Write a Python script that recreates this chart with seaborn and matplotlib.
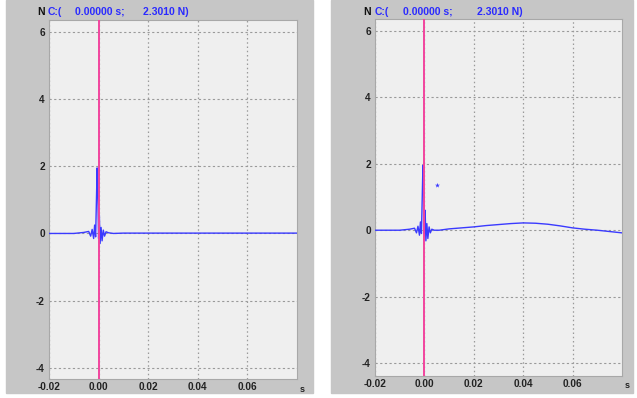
import numpy as np
import pandas as pd
import seaborn as sns
import matplotlib.pyplot as plt
from matplotlib.patches import Rectangle

sns.set_theme(style="white")
plt.rcParams["font.family"] = ["Liberation Sans", "DejaVu Sans"]
plt.rcParams["font.weight"] = "bold"

# values (time in s, force in N)
t_left = [-0.02, -0.010, -0.006, -0.004, -0.0032, -0.0026, -0.002, -0.0016, -0.0012,
          -0.0009, -0.0006, -0.0003, 0.0, 0.0003, 0.0006, 0.001, 0.0014, 0.0019,
          0.0024, 0.003, 0.004, 0.006, 0.010, 0.08]
f_left = [0.0, 0.0, 0.03, 0.06, -0.08, 0.12, -0.15, 0.25, -0.1,
          0.9, 1.95, 1.1, -0.15, 0.55, -0.3, 0.18, -0.22, 0.1,
          -0.08, 0.05, 0.02, 0.0, 0.01, 0.01]

t_right = [-0.02, -0.010, -0.006, -0.004, -0.0032, -0.0026, -0.002, -0.0016, -0.0012,
           -0.0009, -0.0006, -0.0003, 0.0, 0.0003, 0.0006, 0.001, 0.0014, 0.0019,
           0.0024, 0.003, 0.004, 0.006, 0.010, 0.015, 0.020, 0.025, 0.030, 0.035,
           0.040, 0.045, 0.050, 0.055, 0.060, 0.065, 0.070, 0.075, 0.080]
f_right = [0.0, 0.0, 0.03, 0.06, -0.08, 0.12, -0.15, 0.25, -0.1,
           0.9, 1.95, 1.2, -0.1, 0.6, -0.32, 0.2, -0.25, 0.1,
           -0.08, 0.03, 0.0, 0.0, 0.04, 0.07, 0.1, 0.14, 0.17, 0.2,
           0.22, 0.21, 0.18, 0.13, 0.07, 0.03, 0.0, -0.04, -0.08]

cursor_t = [0.0049]
cursor_f = [1.36]

xticks = [-0.02, 0.00, 0.02, 0.04, 0.06]
yticks = [-4, -2, 0, 2, 4, 6]

fig = plt.figure(figsize=(6.37, 3.98), dpi=100)
fig.patch.set_facecolor("white")

panel_gray = "#c6c6c6"
fig.patches.append(Rectangle((6 / 637, 5 / 398), 307 / 637, 393 / 398,
                             transform=fig.transFigure, color=panel_gray, zorder=-10))
fig.patches.append(Rectangle((331 / 637, 5 / 398), 302 / 637, 393 / 398,
                             transform=fig.transFigure, color=panel_gray, zorder=-10))

ax1 = fig.add_axes([49 / 637, 1 - 379 / 398, 248 / 637, 359 / 398])
ax2 = fig.add_axes([375 / 637, 1 - 376 / 398, 247 / 637, 357 / 398])

blue = "#3a3aff"
pink = "#f2459e"

panels = [
    (ax1, t_left, f_left, (-4.33, 6.35), (37, 48, 75, 143)),
    (ax2, t_right, f_right, (-4.39, 6.36), (363, 375, 403, 477)),
]

for ax, t, f, ylim, tx in panels:
    df = pd.DataFrame({"t": t, "f": f})
    ax.set_facecolor("#efefef")
    sns.lineplot(data=df, x="t", y="f", ax=ax, color=blue, linewidth=1.0, zorder=3)
    ax.axvline(0.0, color=pink, linewidth=1.4, zorder=4)
    ax.set_xlim(-0.02, 0.08)
    ax.set_ylim(*ylim)
    ax.set_xticks(xticks)
    ax.set_xticklabels([f"{v:.2f}" for v in xticks])
    ax.set_yticks(yticks)
    ax.set_yticklabels([str(v) for v in yticks])
    ax.xaxis.grid(True, color="#9a9a9a", linestyle=(0, (1.2, 2.2)), linewidth=0.9)
    ax.yaxis.grid(True, color="#9a9a9a", linestyle=(0, (2, 2.2)), linewidth=0.8)
    ax.tick_params(length=0, labelsize=7.2, pad=3, colors="#222222")
    ax.tick_params(axis="x", pad=2.5)
    for lab in ax.get_xticklabels() + ax.get_yticklabels():
        lab.set_fontweight("bold")
    for s in ax.spines.values():
        s.set_color("#a8a8a8")
        s.set_linewidth(0.8)
    ax.set_xlabel("")
    ax.set_ylabel("")
    ax.text(1.01, -0.028, "s", transform=ax.transAxes, ha="left", va="center",
            fontsize=6.5, fontweight="bold", color="#222222")
    # cursor readout above each plot
    y = 1 - 12 / 398
    fig.text(tx[0] / 637, y, "N", ha="left", va="center", fontsize=7.5,
             fontweight="bold", color="#111111")
    fig.text(tx[1] / 637, y, "C:(", ha="left", va="center", fontsize=7.5,
             fontweight="bold", color="#2a2aff")
    fig.text(tx[2] / 637, y, "0.00000 s;", ha="left", va="center", fontsize=7.5,
             fontweight="bold", color="#2a2aff")
    fig.text(tx[3] / 637, y, "2.3010 N)", ha="left", va="center", fontsize=7.5,
             fontweight="bold", color="#2a2aff")

sns.scatterplot(x=cursor_t, y=cursor_f, ax=ax2, color=blue, marker="*", s=14,
                linewidth=0, zorder=5)

fig.savefig("out.png", dpi=100, facecolor=fig.get_facecolor())
